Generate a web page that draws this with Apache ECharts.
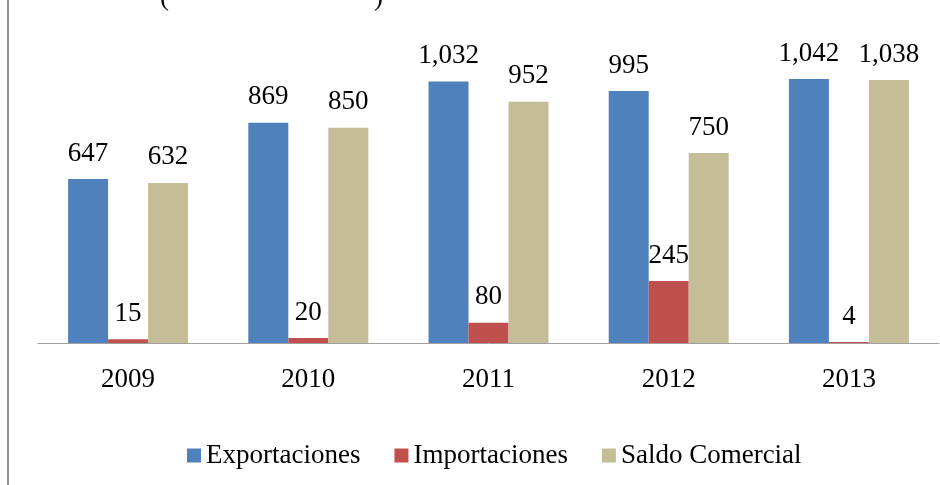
<!DOCTYPE html>
<html>
<head>
<meta charset="utf-8">
<script src="https://cdn.jsdelivr.net/npm/echarts@6/dist/echarts.min.js"></script>
<style>
  html, body { margin: 0; padding: 0; background: #fff; }
  #chart { width: 940px; height: 485px; }
</style>
</head>
<body>
<div id="chart"></div>
<script>
const years = ['2009', '2010', '2011', '2012', '2013'];
const exportaciones = [647, 869, 1032, 995, 1042];
const importaciones = [15, 20, 80, 245, 4];
const saldoComercial = [632, 850, 952, 750, 1038];

const serif = '"Liberation Serif", "DejaVu Serif", serif';

function fmt(v) {
  return v.toLocaleString('en-US');
}

function barSeries(name, data, color) {
  return {
    name: name,
    type: 'bar',
    data: data,
    barWidth: 40,
    barGap: '0%',
    itemStyle: { color: color },
    label: {
      show: true,
      position: 'top',
      distance: 12,
      color: '#000',
      fontFamily: serif,
      fontSize: 27,
      formatter: p => fmt(p.value)
    }
  };
}

const myChart = echarts.init(document.getElementById('chart'));
const option = {
  animation: false,
  backgroundColor: '#fff',
  grid: { left: 38, right: 1, top: 39, bottom: 142 },
  xAxis: {
    type: 'category',
    data: years,
    axisLine: { lineStyle: { color: '#a0a0a0', width: 1 } },
    axisTick: { show: false },
    axisLabel: { color: '#000', fontFamily: serif, fontSize: 27, margin: 23 }
  },
  yAxis: {
    type: 'value',
    min: 0,
    max: 1200,
    show: false,
    splitLine: { show: false }
  },
  legend: {
    top: 437,
    left: 182,
    itemWidth: 14,
    itemHeight: 14,
    itemGap: 34,
    icon: 'rect',
    textStyle: { color: '#000', fontFamily: serif, fontSize: 27 },
    data: ['Exportaciones', 'Importaciones', 'Saldo Comercial']
  },
  series: [
    barSeries('Exportaciones', exportaciones, '#4F81BD'),
    barSeries('Importaciones', importaciones, '#C0504D'),
    barSeries('Saldo Comercial', saldoComercial, '#C4BD97')
  ],
  graphic: [
    { type: 'line', shape: { x1: 8, y1: 0, x2: 8, y2: 485 }, style: { stroke: '#909090', lineWidth: 2 } },
    { type: 'text', left: 160, top: -16, style: { text: '(', font: '27px ' + serif, fill: '#000' } },
    { type: 'text', left: 374, top: -16, style: { text: ')', font: '27px ' + serif, fill: '#000' } }
  ]
};
myChart.setOption(option);
window.addEventListener('resize', function () { myChart.resize(); });
</script>
</body>
</html>
